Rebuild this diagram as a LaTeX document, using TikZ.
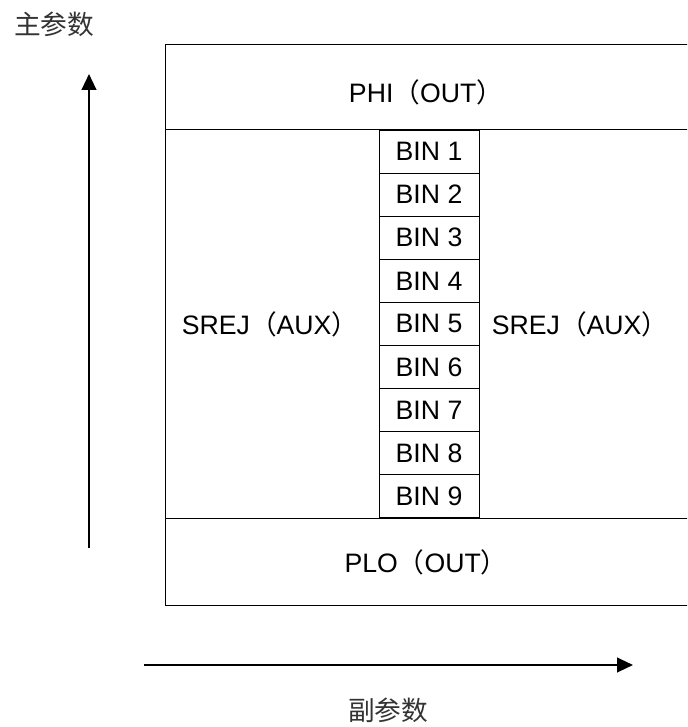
\documentclass[tikz,border=0pt]{standalone}
\usepackage{fontspec}
\setmainfont{Liberation Sans}
\newfontfamily\cjk{Noto Sans CJK SC}
\usetikzlibrary{arrows.meta}
\begin{document}
\begin{tikzpicture}[x=0.75pt,y=-0.75pt,
  frame/.style={draw=black,line width=0.75pt},
  lbl/.style={inner sep=0pt,font=\fontsize{20pt}{24pt}\selectfont},
  cjklbl/.style={inner sep=0pt,font=\cjk\fontsize{20pt}{24pt}\selectfont,text=black!80},
  axis/.style={draw=black,line width=1.6pt,-{Triangle[length=12pt,width=11pt]}},
  binbox/.style={frame,minimum width=75pt,minimum height=32.3pt,inner sep=0pt,font=\fontsize{20pt}{24pt}\selectfont}]
\useasboundingbox (0,0) rectangle (687,727);
\clip (0,0) rectangle (687,727);
% outer frame (open to the right edge)
\draw[frame] (165,45) rectangle (700,605);
\draw[frame] (165,130) -- (700,130);
\draw[frame] (165,518) -- (700,518);
% bins
\foreach \i in {1,...,9}{
  \node[binbox] (bin\i) at (429,{130+43.1*(\i-0.5)}) {BIN \i};
}
% labels
\node[lbl] (phi) at (426,92) {PHI{\cjk （}OUT{\cjk ）}};
\node[lbl] (plo) at (426,562) {PLO{\cjk （}OUT{\cjk ）}};
\node[lbl] (srejl) at (270,324) {SREJ{\cjk （}AUX{\cjk ）}};
\node[lbl] (srejr) at (580,324) {SREJ{\cjk （}AUX{\cjk ）}};
% axes
\coordinate (ya) at (89,548);
\coordinate (yb) at (89,74);
\coordinate (xa) at (144,665);
\coordinate (xb) at (633,665);
\draw[axis] (ya) -- (yb);
\draw[axis] (xa) -- (xb);
\node[cjklbl] (main) at (54,24) {主参数};
\node[cjklbl] (sub) at (388,710) {副参数};
\end{tikzpicture}
\end{document}
